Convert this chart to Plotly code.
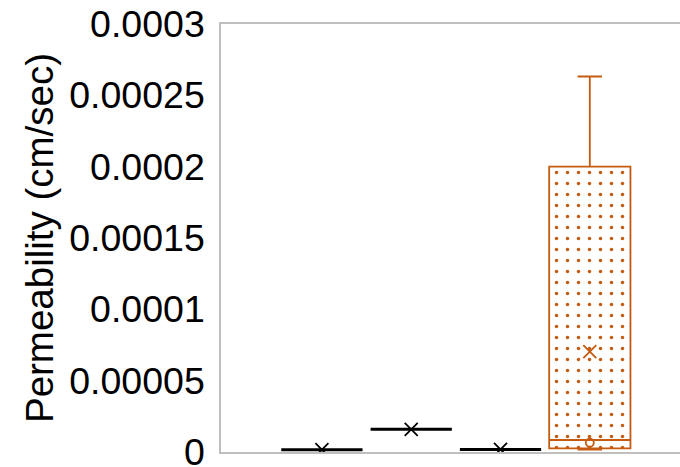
import plotly.graph_objects as go

# Permeability summary statistics per sample group (cm/sec)
positions = [0, 1, 2, 3]
q1 = [1.6e-6, 1.59e-5, 1.8e-6, 2.5e-6]
median = [1.6e-6, 1.59e-5, 1.8e-6, 8.4e-6]
q3 = [1.6e-6, 1.59e-5, 1.8e-6, 2.0e-4]
lower_fence = [1.6e-6, 1.59e-5, 1.8e-6, 1.6e-6]
upper_fence = [1.6e-6, 1.59e-5, 1.8e-6, 2.632e-4]
means = [1.6e-6, 1.59e-5, 1.8e-6, 7.03e-5]
inner_point_x = [3]
inner_point_y = [6.5e-6]

tick_values = [0, 5e-5, 1e-4, 1.5e-4, 2e-4, 2.5e-4, 3e-4]
tick_labels = ["0", "0.00005", "0.0001", "0.00015", "0.0002", "0.00025", "0.0003"]

BLACK = "#000000"
ORANGE = "#C55A11"
AXIS_GREY = "#BFBFBF"
BOX_WIDTH = 0.91
FONT = "Liberation Sans, Arial, sans-serif"

fig = go.Figure()

# Dotted fill of the orange box (drawn beneath the outline)
fig.add_trace(go.Bar(
    x=positions[3:], base=q1[3:], y=[q3[3] - q1[3]], width=BOX_WIDTH,
    marker=dict(color="rgba(0,0,0,0)", line=dict(width=0),
                pattern=dict(shape=".", fgcolor=ORANGE, bgcolor="white",
                             size=11, solidity=0.08, fillmode="replace")),
    showlegend=False, hoverinfo="skip",
))

# Black boxes (groups 1-3)
fig.add_trace(go.Box(
    x=positions[:3], q1=q1[:3], median=median[:3], q3=q3[:3],
    lowerfence=lower_fence[:3], upperfence=upper_fence[:3],
    width=BOX_WIDTH, whiskerwidth=0.3, boxpoints=False,
    line=dict(color=BLACK, width=3), fillcolor="rgba(0,0,0,0)",
    showlegend=False,
))

# Orange box (group 4)
fig.add_trace(go.Box(
    x=positions[3:], q1=q1[3:], median=median[3:], q3=q3[3:],
    lowerfence=lower_fence[3:], upperfence=upper_fence[3:],
    width=BOX_WIDTH, whiskerwidth=0.3, boxpoints=False,
    line=dict(color=ORANGE, width=1.8), fillcolor="rgba(0,0,0,0)",
    showlegend=False,
))

# Mean markers
fig.add_trace(go.Scatter(
    x=positions, y=means, mode="markers",
    marker=dict(symbol="x-thin", size=13,
                line=dict(color=[BLACK, BLACK, BLACK, ORANGE], width=1.8)),
    showlegend=False,
))

# Inner data point
fig.add_trace(go.Scatter(
    x=inner_point_x, y=inner_point_y, mode="markers",
    marker=dict(symbol="circle-open", size=8, color=ORANGE,
                line=dict(color=ORANGE, width=1.8)),
    showlegend=False,
))

fig.update_layout(
    width=680, height=467,
    margin=dict(l=221, r=0, t=24, b=15, autoexpand=False),
    paper_bgcolor="white", plot_bgcolor="white",
    boxmode="overlay", barmode="overlay",
    font=dict(family=FONT, color="black"),
    xaxis=dict(range=[-1.13, 4.01], showticklabels=False, ticks="",
               showgrid=False, zeroline=False, automargin=False,
               showline=True, linecolor=AXIS_GREY, linewidth=1.5, mirror=True),
    yaxis=dict(range=[0, 3e-4], tickvals=tick_values, ticktext=tick_labels,
               tickfont=dict(size=37.5, family=FONT, color="black"),
               ticks="", ticklabelstandoff=7, ticklabeloverflow="allow",
               showgrid=False, zeroline=False, automargin=False,
               showline=True, linecolor=AXIS_GREY, linewidth=1.5,
               title=dict(text="Permeability (cm/sec)", standoff=4,
                          font=dict(size=38.5, family=FONT, color="black"))),
)

fig.write_html("out.html")
